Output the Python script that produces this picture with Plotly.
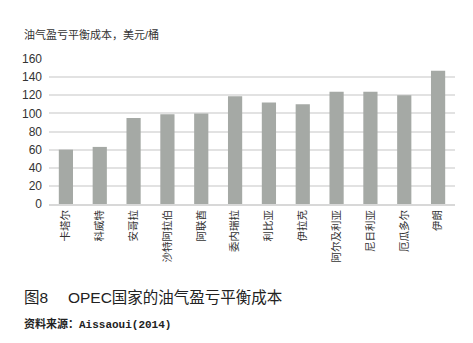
import plotly.graph_objects as go

countries = ["卡塔尔", "科威特", "安哥拉", "沙特阿拉伯", "阿联酋", "委内瑞拉", "利比亚",
             "伊拉克", "阿尔及利亚", "尼日利亚", "厄瓜多尔", "伊朗"]
costs = [60, 63, 95, 99, 100, 119, 112, 110, 124, 124, 120, 147]
yticks = [0, 20, 40, 60, 80, 100, 120, 140, 160]

FONT = "Liberation Sans, Noto Sans CJK SC"
W, H = 473, 343
L, R, T, B = 49, 18, 59, 139
pw, ph = W - L - R, H - T - B


def px(x):
    return (x - L) / pw


def py(y):
    return (H - y - B) / ph


fig = go.Figure(go.Bar(x=countries, y=costs, marker=dict(color="#a5a9a5", line=dict(width=0)),
                       width=0.42))

fig.update_layout(
    width=W, height=H,
    margin=dict(l=L, r=R, t=T, b=B),
    paper_bgcolor="white", plot_bgcolor="white",
    font=dict(family=FONT, color="#333333"),
    showlegend=False,
    xaxis=dict(tickangle=-90, tickfont=dict(size=10.5, color="#333333"),
               showline=True, linecolor="#d8d8d8", linewidth=1.5, ticks="", showgrid=False),
    yaxis=dict(range=[0, 160], tickvals=yticks, tickfont=dict(size=12, color="#333333"),
               showgrid=True, gridcolor="#e2e2e2", gridwidth=1.5, zeroline=False, showline=False,
               ticks="", ticklabelstandoff=6),
    annotations=[
        dict(text="油气盈亏平衡成本，美元/桶", x=px(22), y=py(35), xref="paper", yref="paper",
             showarrow=False, xanchor="left", yanchor="middle",
             font=dict(size=11, color="#333333")),
        dict(text="图8　 OPEC国家的油气盈亏平衡成本", x=px(22), y=py(297), xref="paper", yref="paper",
             showarrow=False, xanchor="left", yanchor="middle",
             font=dict(size=15.5, color="#222222")),
        dict(text="<b>资料来源：Aissaoui(2014)</b>", x=px(22), y=py(324), xref="paper", yref="paper",
             showarrow=False, xanchor="left", yanchor="middle",
             font=dict(size=11, color="#222222", family="Liberation Mono, Noto Sans CJK SC")),
    ],
)

fig.write_html("out.html")
